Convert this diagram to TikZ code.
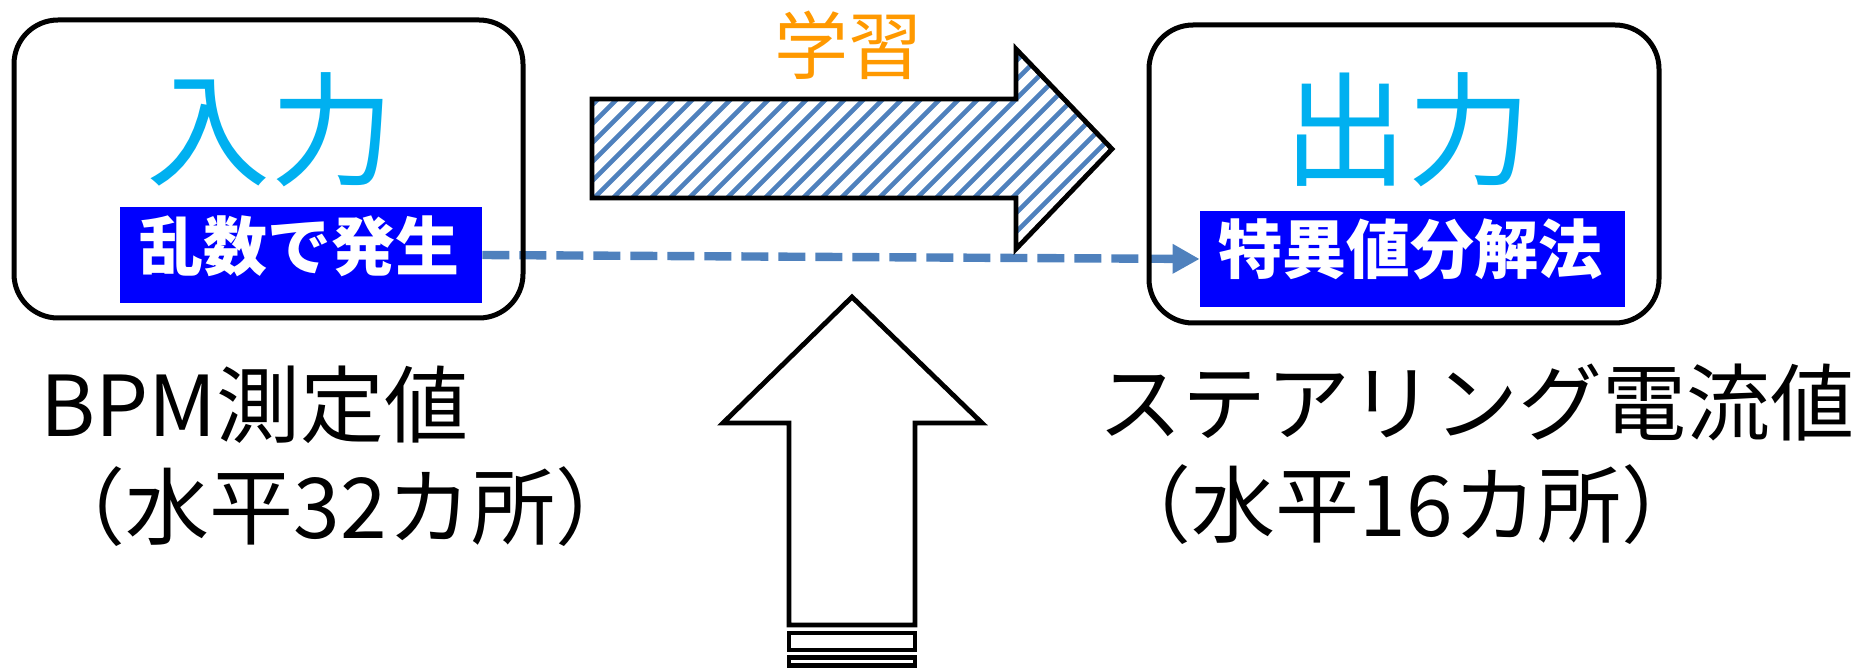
\documentclass[tikz,border=0pt]{standalone}
\usepackage{fontspec}
\newfontfamily\jp{Noto Sans CJK JP}
\usetikzlibrary{arrows.meta}
\definecolor{cyanT}{HTML}{00B0F0}
\definecolor{blueB}{HTML}{0000FF}
\definecolor{orangeT}{HTML}{FF9900}
\definecolor{steel}{HTML}{4F81BD}
\pgfdeclarelayer{background}
\pgfsetlayers{background,main}
\begin{document}
\begin{tikzpicture}[x=0.5pt,y=-0.5pt,
  roundbox/.style={draw=black,line width=2.5pt,rounded corners=22pt,inner sep=0pt},
  bluebox/.style={fill=blueB,inner sep=0pt,minimum height=48pt},
  bigtxt/.style={font=\jp\fontsize{62pt}{62pt}\selectfont,text=cyanT,inner sep=0pt},
  wtxt/.style={font=\jp\bfseries\fontsize{32pt}{32pt}\selectfont,text=white,inner sep=0pt},
  lbl/.style={font=\jp\fontsize{42pt}{42pt}\selectfont,inner sep=0pt},
  shapeline/.style={draw=black,line width=2.4pt,line join=miter},
  hatchline/.style={draw=steel,line width=2.3pt},
  flow/.style={draw=steel,line width=4.2pt,dash pattern=on 13.5pt off 5pt,-{Triangle[length=13.5pt,width=14pt]}}
]
\useasboundingbox (0,0) rectangle (1864,668);

% rounded boxes
\node[roundbox,minimum width=254.5pt,minimum height=149pt] (inbox) at (268.5,169) {};
\node[roundbox,minimum width=255pt,minimum height=149pt] (outbox) at (1404,174) {};

\node[bigtxt] (inlbl) at (270.5,130) {入力};
\node[bigtxt] (outlbl) at (1407.5,130) {出力};

\node[bluebox,minimum width=181pt] (rand) at (301,255) {};
\node[wtxt] (randtxt) at (299.5,246.5) {乱数で発生};
\node[bluebox,minimum width=212.5pt] (svd) at (1412.5,259) {};
\node[wtxt] (svdtxt) at (1410.5,249) {特異値分解法};

\begin{pgfonlayer}{background}
\draw[flow] (rand.east) -- (svd.west);
\end{pgfonlayer}

% hatched arrow
\begin{scope}
\clip (592,99) -- (1016,99) -- (1016,49) -- (1112,149) -- (1016,249) -- (1016,198) -- (592,198) -- cycle;
\foreach \c in {640,659,...,1380} \draw[hatchline] (\c-270,270) -- (\c-30,30);
\end{scope}
\draw[shapeline] (592,99) -- (1016,99) -- (1016,49) -- (1112,149) -- (1016,249) -- (1016,198) -- (592,198) -- cycle;

% up arrow
\draw[shapeline] (852,297) -- (982,423) -- (915,423) -- (915,625) -- (789,625) -- (789,423) -- (723,423) -- cycle;
\draw[shapeline] (789,633) rectangle (915,650);
\draw[shapeline] (789,657.5) rectangle (915,665.5);

% labels
\node[font=\jp\fontsize{37pt}{37pt}\selectfont,inner sep=0pt,text=orangeT] (learn) at (848.5,45.5) {学習};
\node[lbl] (bpm) at (254.5,405) {BPM測定値};
\node[lbl] (bpm2) at (340.5,507) {（水平32カ所）};
\node[lbl] (st) at (1476.5,403) {ステアリング電流値};
\node[lbl] (st2) at (1406.5,505) {（水平16カ所）};
\end{tikzpicture}
\end{document}
